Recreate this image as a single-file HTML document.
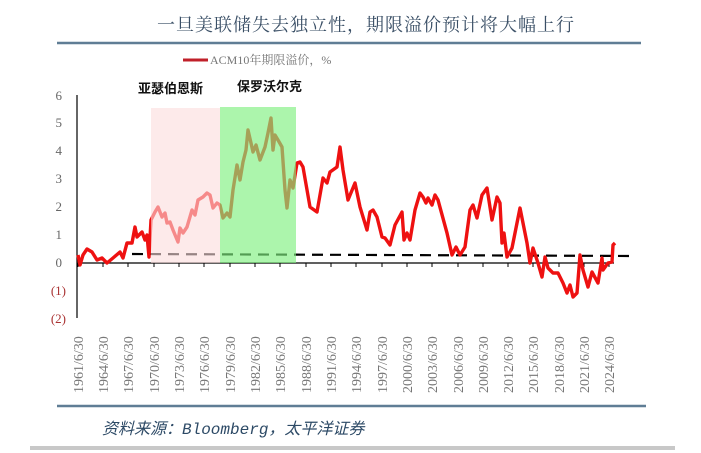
<!DOCTYPE html>
<html><head><meta charset="utf-8"><style>
html,body{margin:0;padding:0;background:#fff;}
svg{display:block;}
</style></head><body>
<svg width="701" height="453" viewBox="0 0 701 453" xmlns="http://www.w3.org/2000/svg">
<rect width="701" height="453" fill="#fff"/>
<text x="366" y="31" text-anchor="middle" font-family="'Noto Serif CJK SC','Noto Sans CJK SC',serif" font-size="18" fill="#3a4f66" letter-spacing="1">一旦美联储失去独立性，期限溢价预计将大幅上行</text>
<line x1="57" y1="43" x2="641" y2="43" stroke="#5f7d95" stroke-width="2.5"/>
<line x1="183" y1="60" x2="208" y2="60" stroke="#c0202a" stroke-width="3"/>
<text x="210" y="64" font-family="'Liberation Serif','Noto Serif CJK SC',serif" font-size="12" fill="#777">ACM10年期限溢价，%</text>
<g font-family="'Liberation Serif',serif" font-size="13" fill="#666" text-anchor="end">
<text x="62" y="100">6</text><text x="62" y="127">5</text><text x="62" y="155">4</text><text x="62" y="183">3</text><text x="62" y="211">2</text><text x="62" y="239">1</text><text x="62" y="267">0</text>
<text x="66" y="295" fill="#a33">(1)</text><text x="66" y="323" fill="#a33">(2)</text>
</g>
<line x1="77" y1="95" x2="77" y2="318" stroke="#000" stroke-width="1.2"/>
<line x1="77" y1="263" x2="614" y2="263" stroke="#000" stroke-width="1.2"/>
<g stroke="#000" stroke-width="1">
<path d="M78,263v4M103,263v4M128,263v4M154,263v4M179,263v4M204,263v4M230,263v4M255,263v4M280,263v4M306,263v4M331,263v4M356,263v4M382,263v4M407,263v4M432,263v4M458,263v4M483,263v4M508,263v4M533,263v4M559,263v4M584,263v4M609,263v4"/>
</g>
<line x1="132" y1="254" x2="634" y2="256" stroke="#000" stroke-width="2.2" stroke-dasharray="11,7"/>
<polyline fill="none" stroke="#ee1111" stroke-width="3.4" stroke-linejoin="round" points="78,255 80,265 83,255 87,249 92,252 97,260 102,258 107,263 113,258 120,252 123,258 127,243 132,243 135,227 137,237 142,232 145,240 147,235 149,257 151,220 155,212 158,207 162,217 165,213 167,223 170,222 173,230 178,242 180,228 183,233 187,227 192,210 195,215 198,200 203,197 207,193 210,195 213,208 217,203 220,205 223,218 227,213 230,217 233,190 237,165 240,180 243,162 246,150 248,130 251,143 253,152 256,145 260,160 265,147 268,133 271,118 273,150 275,135 278,140 282,147 285,190 287,208 290,180 293,188 297,163 300,162 303,167 310,207 317,212 323,178 327,183 330,172 337,167 340,147 343,170 348,200 355,183 360,207 367,230 370,212 373,210 377,217 382,237 385,238 390,245 395,225 402,212 404,240 407,233 410,240 415,210 420,193 423,197 426,203 428,198 432,205 435,195 438,200 447,233 452,255 456,247 460,255 465,247 470,210 473,205 477,218 482,195 487,188 492,220 497,197 500,203 502,243 504,233 507,257 512,248 520,208 527,243 530,263 533,248 538,263 542,277 545,257 548,268 553,273 558,273 563,283 567,293 570,285 573,297 577,293 580,255 583,270 588,287 592,272 598,283 602,258 603,270 608,263 612,262 613,245 615,243"/>
<rect x="151" y="108" width="69" height="155" fill="#fcdcdc" opacity="0.6"/>
<rect x="220" y="107" width="76" height="156" fill="#80f080" opacity="0.65"/>
<text x="138" y="93" font-family="'Noto Sans CJK SC',sans-serif" font-weight="bold" font-size="13" fill="#111">亚瑟伯恩斯</text>
<text x="237" y="91" font-family="'Noto Sans CJK SC',sans-serif" font-weight="bold" font-size="13" fill="#111">保罗沃尔克</text>
<g font-family="'Liberation Serif',serif" font-size="14" fill="#777">
<text transform="translate(83,393) rotate(-90)">1961/6/30</text>
<text transform="translate(108,393) rotate(-90)">1964/6/30</text>
<text transform="translate(133,393) rotate(-90)">1967/6/30</text>
<text transform="translate(159,393) rotate(-90)">1970/6/30</text>
<text transform="translate(184,393) rotate(-90)">1973/6/30</text>
<text transform="translate(209,393) rotate(-90)">1976/6/30</text>
<text transform="translate(235,393) rotate(-90)">1979/6/30</text>
<text transform="translate(260,393) rotate(-90)">1982/6/30</text>
<text transform="translate(285,393) rotate(-90)">1985/6/30</text>
<text transform="translate(311,393) rotate(-90)">1988/6/30</text>
<text transform="translate(336,393) rotate(-90)">1991/6/30</text>
<text transform="translate(361,393) rotate(-90)">1994/6/30</text>
<text transform="translate(387,393) rotate(-90)">1997/6/30</text>
<text transform="translate(412,393) rotate(-90)">2000/6/30</text>
<text transform="translate(437,393) rotate(-90)">2003/6/30</text>
<text transform="translate(463,393) rotate(-90)">2006/6/30</text>
<text transform="translate(488,393) rotate(-90)">2009/6/30</text>
<text transform="translate(513,393) rotate(-90)">2012/6/30</text>
<text transform="translate(538,393) rotate(-90)">2015/6/30</text>
<text transform="translate(564,393) rotate(-90)">2018/6/30</text>
<text transform="translate(589,393) rotate(-90)">2021/6/30</text>
<text transform="translate(614,393) rotate(-90)">2024/6/30</text>
</g>
<line x1="57" y1="406" x2="646" y2="406" stroke="#5f7d95" stroke-width="2.5"/>
<text x="102" y="434" font-family="'Liberation Mono','Noto Sans CJK SC',monospace" font-style="italic" font-size="16" fill="#2d4a66">资料来源：Bloomberg，太平洋证券</text>
<rect x="30" y="446" width="645" height="4" fill="#c8c8c8"/>
</svg>
</body></html>
